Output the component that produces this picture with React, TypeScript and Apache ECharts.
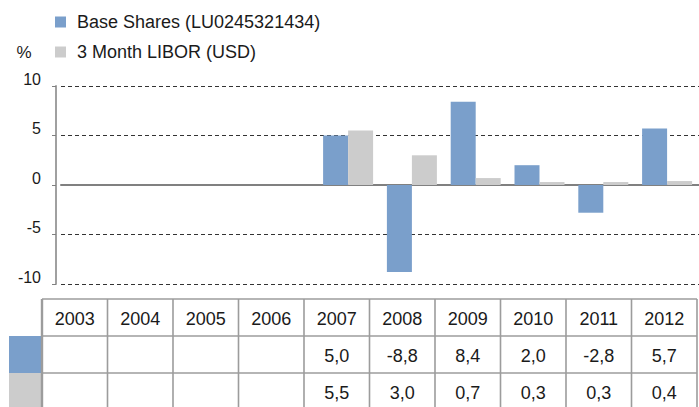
import React, { useEffect, useRef } from "react";
import * as echarts from "echarts";

const years = ["2003", "2004", "2005", "2006", "2007", "2008", "2009", "2010", "2011", "2012"];
const baseShares: (number | null)[] = [null, null, null, null, 5.0, -8.8, 8.4, 2.0, -2.8, 5.7];
const libor: (number | null)[] = [null, null, null, null, 5.5, 3.0, 0.7, 0.3, 0.3, 0.4];
const seriesNames = ["Base Shares (LU0245321434)", "3 Month LIBOR (USD)"];
const colors = ["#7a9fcb", "#cccccc"];
const yTicks = { min: -10, max: 10, interval: 5 };

const FONT = "Liberation Sans, Arial, Helvetica, sans-serif";
const TEXT = "#1a1a1a";
const LINE = "#9c9c9c";

function fmt(v: number | null) {
  return v == null ? "" : v.toFixed(1).replace(".", ",");
}

function buildTable() {
  const x0 = 42;
  const colW = 65.5;
  const rowsY = [299, 336, 373, 410];
  const right = x0 + colW * years.length;
  const els: any[] = [];
  els.push({ type: "rect", shape: { x: 9, y: rowsY[1], width: x0 - 9, height: rowsY[2] - rowsY[1] }, style: { fill: colors[0] } });
  els.push({ type: "rect", shape: { x: 9, y: rowsY[2], width: x0 - 9, height: 40 }, style: { fill: colors[1] } });
  for (let r = 0; r < 3; r++) {
    els.push({ type: "line", shape: { x1: x0, y1: rowsY[r], x2: right, y2: rowsY[r] }, style: { stroke: LINE, lineWidth: 1.6 } });
  }
  for (let c = 0; c <= years.length; c++) {
    const x = x0 + c * colW;
    els.push({ type: "line", shape: { x1: x, y1: rowsY[0], x2: x, y2: 410 }, style: { stroke: LINE, lineWidth: c === 0 ? 2.4 : 1.6 } });
  }
  const rows = [years, baseShares.map(fmt), libor.map(fmt)];
  rows.forEach((row, r) => {
    row.forEach((txt, c) => {
      if (!txt) return;
      els.push({
        type: "text",
        style: {
          text: txt,
          x: x0 + c * colW + colW / 2,
          y: (rowsY[r] + rowsY[r + 1]) / 2 + 1,
          align: "center",
          verticalAlign: "middle",
          fontSize: 18,
          fontFamily: FONT,
          fill: TEXT,
        },
      });
    });
  });
  return els;
}

export default function App() {
  const ref = useRef<HTMLDivElement>(null);
  useEffect(() => {
    if (!ref.current) return;
    const chart = echarts.init(ref.current, undefined, { renderer: "svg" });
    chart.setOption({
      animation: false,
      backgroundColor: "#ffffff",
      textStyle: { fontFamily: FONT },
      legend: {
        orient: "vertical",
        left: 55,
        top: 12,
        padding: 0,
        itemWidth: 11,
        itemHeight: 11,
        itemGap: 10,
        icon: "rect",
        selectedMode: false,
        textStyle: { fontSize: 18, color: TEXT, fontFamily: FONT, lineHeight: 20, padding: [0, 0, 0, 6] },
        data: seriesNames,
      },
      grid: { left: 61, top: 86, width: 638, height: 198, containLabel: false },
      xAxis: {
        type: "category",
        data: years,
        axisLine: { onZero: true, lineStyle: { color: "#808080", width: 2 } },
        axisTick: { show: false },
        axisLabel: { show: false },
        splitLine: { show: false },
      },
      yAxis: {
        type: "value",
        min: yTicks.min,
        max: yTicks.max,
        interval: yTicks.interval,
        offset: 5,
        axisLine: { show: true, lineStyle: { color: "#a0a0a0", width: 2 } },
        axisTick: { show: true, length: 4, lineStyle: { color: "#808080" } },
        axisLabel: {
          fontSize: 16,
          color: TEXT,
          fontFamily: FONT,
          margin: 15,
          verticalAlign: "bottom",
          lineHeight: 14,
        },
        splitLine: { show: true, lineStyle: { color: "#333333", type: [4, 3], width: 1 } },
      },
      series: [
        { name: seriesNames[0], type: "bar", data: baseShares, barWidth: 25, barGap: "0%", itemStyle: { color: colors[0] } },
        { name: seriesNames[1], type: "bar", data: libor, barWidth: 25, barGap: "0%", itemStyle: { color: colors[1] } },
      ],
      graphic: [
        {
          type: "text",
          style: { text: "%", x: 24, y: 52, align: "center", verticalAlign: "middle", fontSize: 17, fontFamily: FONT, fill: TEXT },
        },
        ...buildTable(),
      ],
    });
    return () => chart.dispose();
  }, []);
  return <div ref={ref} style={{ position: "fixed", left: 0, top: 0, width: 699, height: 407 }} />;
}
